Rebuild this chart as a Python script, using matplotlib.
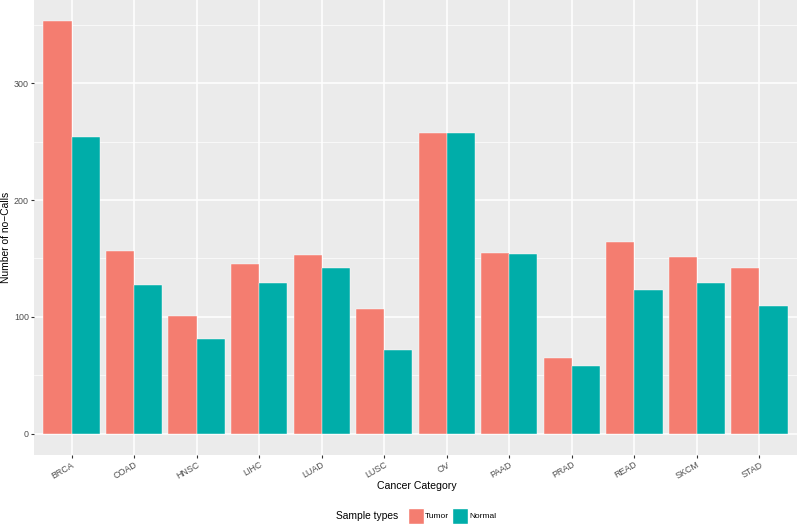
import matplotlib
matplotlib.use("Agg")
import matplotlib.pyplot as plt
import numpy as np
from matplotlib.patches import Patch
from matplotlib.offsetbox import HPacker

categories = ["BRCA", "COAD", "HNSC", "LIHC", "LUAD", "LUSC", "OV", "PAAD", "PRAD", "READ", "SKCM", "STAD"]
tumor = [353, 156, 101, 145, 153, 107, 257, 155, 65, 164, 151, 142]
normal = [254, 127, 81, 129, 142, 72, 257, 154, 58, 123, 129, 109]
series_names = ["Tumor", "Normal"]
colors = ["#F47D70", "#00ADA9"]

plt.rcParams['font.family'] = ['Liberation Sans', 'DejaVu Sans']

fig = plt.figure(figsize=(8, 5.24), dpi=100)
W, H = 800, 524
left, right, top, bottom = 34, 797, 0, 455
ax = fig.add_axes([left / W, (H - bottom) / H, (right - left) / W, (bottom - top) / H])
ax.set_facecolor("#EBEBEB")

x = np.arange(1, len(categories) + 1)
bw = 0.45
ax.bar(x - bw / 2, tumor, width=bw, color=colors[0], edgecolor="#FFFFFF", linewidth=0.3, zorder=3)
ax.bar(x + bw / 2, normal, width=bw, color=colors[1], edgecolor="#FFFFFF", linewidth=0.3, zorder=3)

ax.set_xlim(0.4, len(categories) + 0.6)
ax.set_ylim(-18, 371)
ax.set_yticks([0, 100, 200, 300])
ax.set_yticks([50, 150, 250, 350], minor=True)
ax.set_xticks(x)
ax.set_xticklabels(categories, rotation=30, ha="right", rotation_mode="anchor")

ax.grid(True, which="major", color="white", linewidth=1.1, zorder=0)
ax.grid(True, which="minor", axis="y", color="white", linewidth=0.5, zorder=0)
ax.set_axisbelow(True)
for s in ax.spines.values():
    s.set_visible(False)
ax.tick_params(axis="both", which="major", length=2.2, color="#333333", labelsize=6.4, labelcolor="#4D4D4D", pad=1.5)
ax.tick_params(axis="both", which="minor", length=0)

fig.text(417 / W, 1 - 486 / H, "Cancer Category", fontsize=7.6, color="black", ha="center", va="center")
fig.text(6 / W, 1 - 237 / H, "Number of no\u2212Calls", fontsize=7.4, color="black", ha="center", va="center", rotation=90)

handles = [Patch(facecolor=colors[0], edgecolor="white"), Patch(facecolor=colors[1], edgecolor="white")]
fig.legend(handles, series_names, loc="center", bbox_to_anchor=(416 / W, 1 - 516 / H),
           ncol=2, frameon=False, fontsize=6, title="Sample types", title_fontsize=7.4,
           handlelength=1.9, handleheight=2.7, handletextpad=0.15, columnspacing=0.35,
           borderpad=0)
leg = fig.legends[0]
title_box = leg._legend_title_box
handle_box = leg._legend_handle_box
leg._legend_box._children = [HPacker(pad=0, sep=7, children=[title_box, handle_box], align="center")]

fig.savefig("out.png", dpi=100)
